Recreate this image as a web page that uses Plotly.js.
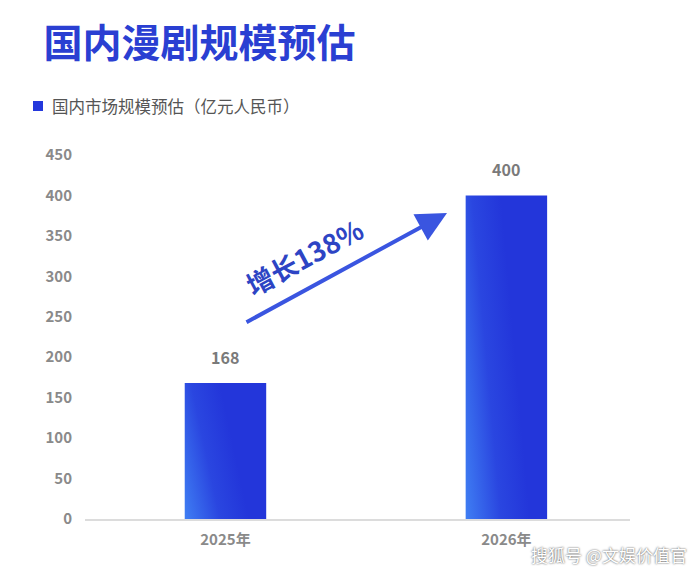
<!DOCTYPE html>
<html><head><meta charset="utf-8">
<script src="https://cdn.plot.ly/plotly-3.0.1.min.js"></script>
<style>html,body{margin:0;padding:0;background:#fff;}#chart{width:690px;height:574px;}</style>
</head><body><div id="chart"></div>
<script>
const categories = ['2025年', '2026年'];
const marketSize = [168, 400];
const seriesName = '国内市场规模预估（亿元人民币）';
const chartTitle = '国内漫剧规模预估';
const growthLabel = '增长138%';
const yTicks = [0, 50, 100, 150, 200, 250, 300, 350, 400, 450];

const FONT = '"Noto Sans CJK SC", "Noto Sans", sans-serif';
const BAR = '#2438dc';
const L = 85, R = 630, T = 155, B = 519;
const px = v => (v - L) / (R - L);
const py = v => (B - v) / (B - T);

const trace = {
  type: 'bar', x: categories, y: marketSize, name: seriesName,
  width: 0.29, marker: {color: BAR}, showlegend: false, hoverinfo: 'skip'
};

const valueAnns = categories.map((c, i) => ({
  x: c, y: marketSize[i], xref: 'x', yref: 'y', text: String(marketSize[i]),
  showarrow: false, yshift: 26, font: {family: FONT, size: 16, color: '#7a7a7a', weight: 'bold'}
}));

const layout = {
  width: 690, height: 574,
  margin: {l: L, r: 690 - R, t: T, b: 574 - B},
  paper_bgcolor: '#ffffff', plot_bgcolor: '#ffffff',
  font: {family: FONT},
  title: {text: chartTitle, xref: 'container', yref: 'container', x: 0.063, xanchor: 'left',
          y: 0.925, yanchor: 'middle', font: {family: FONT, size: 39, color: '#2a3fd2', weight: 'bold'}},
  showlegend: false,
  xaxis: {type: 'category', range: [-0.5, 1.44], showgrid: false, zeroline: false,
          showline: true, linecolor: '#dcdcdc', linewidth: 1.5, ticks: '',
          tickfont: {family: FONT, size: 15, color: '#8a8a8a', weight: 'bold'}, ticklabelstandoff: 6},
  yaxis: {range: [0, 450], tickvals: yTicks, showgrid: false, zeroline: false, showline: false,
          ticks: '', ticklabelstandoff: 12,
          tickfont: {family: FONT, size: 15, color: '#8a8a8a', weight: 'bold'}},
  shapes: [
    {type: 'rect', xref: 'paper', yref: 'paper', x0: px(33), x1: px(43), y0: py(111), y1: py(101),
     fillcolor: BAR, line: {width: 0}}
  ],
  annotations: valueAnns.concat([
    {xref: 'paper', yref: 'paper', x: px(50), xanchor: 'left', y: py(106), yanchor: 'middle',
     text: seriesName, showarrow: false, font: {family: FONT, size: 16.5, color: '#555555'}},
    {xref: 'paper', yref: 'paper', x: px(447), y: py(213), ax: px(245), ay: py(323),
     axref: 'paper', ayref: 'paper', text: '', showarrow: true, arrowhead: 2, arrowsize: 1.5,
     arrowwidth: 4, arrowcolor: '#3a55e0'},
    {xref: 'paper', yref: 'paper', x: px(304), y: py(256), xanchor: 'center', yanchor: 'middle',
     text: growthLabel, showarrow: false, textangle: -28,
     font: {family: FONT, size: 27, color: '#2d44c4', weight: 'bold'}},
    {xref: 'paper', yref: 'paper', x: px(689), xanchor: 'right', y: py(554), yanchor: 'middle',
     text: '搜狐号 @文娱价值官', showarrow: false,
     font: {family: FONT, size: 17, color: '#ffffff', shadow: '0px 0px 2px #333'}}
  ])
};

Plotly.newPlot('chart', [trace], layout, {displayModeBar: false, staticPlot: true}).then(gd => {
  const svg = gd.querySelector('svg.main-svg');
  const ns = 'http://www.w3.org/2000/svg';
  const defs = svg.querySelector('defs');
  const g = document.createElementNS(ns, 'linearGradient');
  g.setAttribute('id', 'barGrad');
  g.setAttribute('x1', '0'); g.setAttribute('y1', '1'); g.setAttribute('x2', '0.7'); g.setAttribute('y2', '0.75');
  [['0', '#3f7ef3'], ['0.55', '#2a46e0'], ['1', '#2336da']].forEach(([o, c]) => {
    const s = document.createElementNS(ns, 'stop'); s.setAttribute('offset', o); s.setAttribute('stop-color', c); g.appendChild(s);
  });
  defs.appendChild(g);
  gd.querySelectorAll('.barlayer .point path').forEach(p => { p.style.fill = 'url(#barGrad)'; });
});
</script></body></html>
